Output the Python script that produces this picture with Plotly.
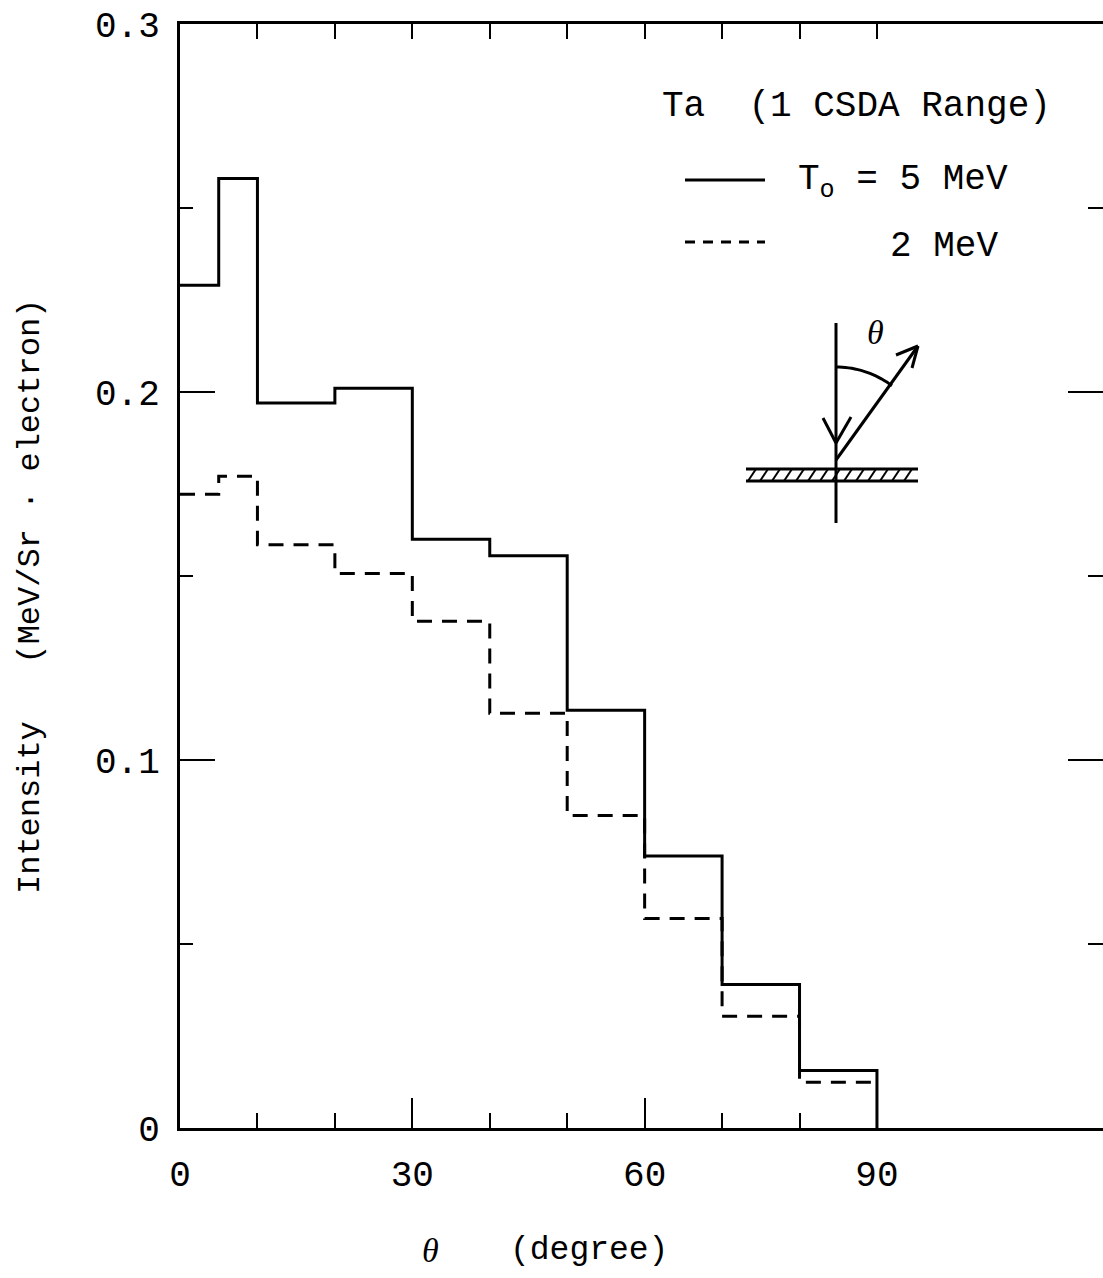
import numpy as np
import plotly.graph_objects as go

# Angular bins (degree) and energy intensity per bin (MeV/Sr·electron)
bin_edges = [0, 5, 10, 20, 30, 40, 50, 60, 70, 80, 90]
intensity_5mev = [0.229, 0.258, 0.197, 0.201, 0.160, 0.1555, 0.1135, 0.0739, 0.0390, 0.0156]
intensity_2mev = [0.1722, 0.1771, 0.1585, 0.1507, 0.1377, 0.1127, 0.0849, 0.0569, 0.0304, 0.0124]

x_ticks = [0, 30, 60, 90]
x_ticktext = ["0", "30", "60", "90"]
x_short = [10, 20, 30, 40, 50, 60, 70, 80, 90]
y_ticks = [0, 0.1, 0.2, 0.3]
y_ticktext = ["0", "0.1", "0.2", "0.3"]
y_minor = [0.05, 0.15, 0.25]

MONO = "Liberation Mono"
W, H = 1103, 1278
L, R, T, B = 180, 0, 24, 150
PW, PH = W - L - R, H - T - B
X_MAX = (W - L) / 7.744


def px(x):
    return (x - L) / PW


def py(y):
    return (H - B - y) / PH


fig = go.Figure()

# 5 MeV histogram: steps ending with a drop to zero at 90 degrees
fig.add_trace(go.Scatter(
    x=bin_edges, y=intensity_5mev + [0],
    mode="lines", line=dict(shape="hv", color="black", width=3),
    showlegend=False, hoverinfo="skip"))

# 2 MeV histogram (dashed)
fig.add_trace(go.Scatter(
    x=bin_edges, y=intensity_2mev + [intensity_2mev[-1]],
    mode="lines", line=dict(shape="hv", color="black", width=3, dash="15px,10px"),
    showlegend=False, hoverinfo="skip"))

# carriers for the auxiliary tick axes
fig.add_trace(go.Scatter(x=[None], y=[None], yaxis="y2", showlegend=False, hoverinfo="skip"))
fig.add_trace(go.Scatter(x=[None], y=[None], xaxis="x2", showlegend=False, hoverinfo="skip"))

axis_font = dict(family=MONO, size=36, color="black")
tick_style = dict(ticks="inside", tickwidth=2, tickcolor="black")

fig.update_layout(
    width=W, height=H,
    margin=dict(l=L, r=R, t=T, b=B, pad=0),
    plot_bgcolor="white", paper_bgcolor="white",
    xaxis=dict(
        range=[0, X_MAX], showgrid=False, zeroline=False,
        showline=True, linecolor="black", linewidth=3, mirror=True,
        tickmode="array", tickvals=x_ticks, ticktext=x_ticktext,
        ticklen=30, tickfont=axis_font, ticklabelstandoff=12, **tick_style,
    ),
    # short 10-degree ticks, bottom and top
    xaxis2=dict(
        overlaying="x", side="bottom", anchor="y", range=[0, X_MAX],
        showgrid=False, zeroline=False, showline=False, showticklabels=False,
        mirror="allticks", tickmode="array", tickvals=x_short, ticklen=15,
        **tick_style,
    ),
    yaxis=dict(
        range=[0, 0.3], showgrid=False, zeroline=False,
        showline=True, linecolor="black", linewidth=3, mirror=False,
        tickmode="array", tickvals=y_ticks, ticktext=y_ticktext,
        ticklen=35, tickfont=axis_font, ticklabelstandoff=10, **tick_style,
        minor=dict(tickmode="array", tickvals=y_minor, ticklen=13, showgrid=False,
                   **tick_style),
    ),
    yaxis2=dict(
        overlaying="y", side="right", range=[0, 0.3], showgrid=False,
        zeroline=False, showline=False, showticklabels=False,
        tickmode="array", tickvals=y_ticks, ticklen=35, **tick_style,
        minor=dict(tickmode="array", tickvals=y_minor, ticklen=15, showgrid=False,
                   **tick_style),
    ),
)

shapes = []
annotations = []


def seg(x0, y0, x1, y1, width=3, dash=None):
    line = dict(color="black", width=width)
    if dash:
        line["dash"] = dash
    shapes.append(dict(type="line", xref="paper", yref="paper",
                       x0=px(x0), y0=py(y0), x1=px(x1), y1=py(y1), line=line))


def text(s, x, y, size=36, xanchor="left", family=MONO):
    annotations.append(dict(text=s, xref="paper", yref="paper", x=px(x), y=py(y),
                            xanchor=xanchor, yanchor="middle", showarrow=False,
                            font=dict(family=family, size=size, color="black")))


# legend block
text("Ta  (1 CSDA Range)", 660, 107)
seg(685, 180, 765, 180)
text("T<sub>o</sub> = 5 MeV", 796, 182)
seg(685, 242, 765, 242, dash="10px,8px")
text("2 MeV", 888, 247)

# geometry sketch: incident beam, target, emission angle
seg(836, 323, 836, 523)
seg(823, 418, 836, 443)
seg(851, 417, 836, 443)
seg(836, 460, 918, 346)
seg(918, 346, 896, 355)
seg(918, 346, 912, 368)
cx, cy, r = 836, 460, 93
ang = np.linspace(0, np.radians(37), 20)
arc_pts = [(cx + r * np.sin(a), cy - r * np.cos(a)) for a in ang]
path = "M " + " L ".join(f"{px(a):.5f},{py(b):.5f}" for a, b in arc_pts)
shapes.append(dict(type="path", xref="paper", yref="paper", path=path,
                   line=dict(color="black", width=3)))
text("<i>θ</i>", 875, 333, size=34, xanchor="center", family="Liberation Serif")

# hatched target plate
seg(746, 469, 918, 469)
seg(746, 481, 918, 481)
for hx in range(748, 912, 12):
    seg(hx, 481, hx + 8, 469, width=2)

# axis titles
text("<i>θ</i>", 430, 1250, size=34, xanchor="center", family="Liberation Serif")
text("(degree)", 508, 1250, size=33)
annotations.append(dict(text="Intensity   (MeV/Sr · electron)", xref="paper", yref="paper",
                        x=px(30), y=py(597), xanchor="center", yanchor="middle",
                        textangle=-90, showarrow=False,
                        font=dict(family=MONO, size=32, color="black")))

fig.update_layout(shapes=shapes, annotations=annotations)

fig.write_html("out.html")
